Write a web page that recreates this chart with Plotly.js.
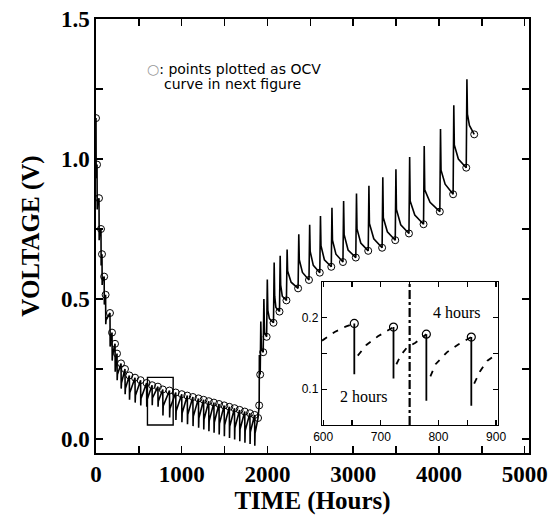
<!DOCTYPE html>
<html>
<head>
<meta charset="utf-8">
<script src="https://cdn.plot.ly/plotly-3.0.1.min.js"></script>
<style>html,body{margin:0;padding:0;background:#fff;}#chart{width:554px;height:518px;}</style>
</head>
<body>
<div id="chart"></div>
<script>
// ---------- discharge phase: OCV points (circles), pulse minima, post-pulse recovery ----------
const dchT   = [0, 12, 35, 58, 70, 95, 112, 163, 187, 222, 245, 292, 338, 389, 455, 520, 590, 654, 722, 779, 857, 930, 1000, 1065, 1130, 1195, 1255, 1315, 1375, 1435, 1495, 1555, 1615, 1675, 1735, 1795, 1850, 1890];
const dchV   = [1.146, 0.98, 0.86, 0.75, 0.66, 0.58, 0.515, 0.45, 0.38, 0.34, 0.305, 0.27, 0.25, 0.227, 0.219, 0.21, 0.2, 0.192, 0.187, 0.177, 0.173, 0.166, 0.160, 0.155, 0.150, 0.145, 0.140, 0.135, 0.130, 0.125, 0.120, 0.115, 0.110, 0.104, 0.098, 0.092, 0.086, 0.075];
const dchMin = [0.93, 0.82, 0.71, 0.62, 0.55, 0.48, 0.41, 0.33, 0.28, 0.24, 0.21, 0.18, 0.16, 0.14, 0.13, 0.12, 0.115, 0.121, 0.115, 0.084, 0.077, 0.068, 0.060, 0.053, 0.046, 0.040, 0.034, 0.028, 0.022, 0.016, 0.010, 0.004, -0.002, -0.008, -0.013, -0.018, -0.024];
const dchRec = [0.95, 0.84, 0.73, 0.64, 0.565, 0.495, 0.425, 0.35, 0.30, 0.26, 0.23, 0.20, 0.18, 0.165, 0.155, 0.145, 0.14, 0.147, 0.135, 0.118, 0.108, 0.10, 0.093, 0.087, 0.081, 0.075, 0.07, 0.065, 0.06, 0.055, 0.05, 0.045, 0.04, 0.035, 0.03, 0.025, 0.02];

// ---------- charge phase: OCV points (circles), pulse tops, decay values ----------
const chgT     = [1903, 1915, 1950, 1990, 2070, 2140, 2221, 2357, 2484, 2610, 2744, 2880, 3030, 3175, 3337, 3490, 3650, 3820, 4010, 4165, 4318, 4411];
const chgV     = [0.12, 0.23, 0.31, 0.365, 0.415, 0.455, 0.495, 0.538, 0.568, 0.594, 0.615, 0.632, 0.648, 0.672, 0.683, 0.71, 0.734, 0.767, 0.812, 0.874, 0.969, 1.088];
const chgTop   = [0.30, 0.42, 0.50, 0.57, 0.63, 0.654, 0.677, 0.731, 0.765, 0.796, 0.826, 0.85, 0.877, 0.904, 0.935, 0.963, 1.007, 1.046, 1.107, 1.192, 1.285];
const chgAfter = [0.25, 0.34, 0.40, 0.46, 0.51, 0.55, 0.60, 0.64, 0.67, 0.69, 0.71, 0.73, 0.75, 0.77, 0.79, 0.82, 0.85, 0.89, 0.96, 1.05, 1.16];
const chgMid   = [0.24, 0.32, 0.38, 0.43, 0.47, 0.51, 0.56, 0.595, 0.62, 0.64, 0.66, 0.675, 0.70, 0.715, 0.74, 0.765, 0.80, 0.845, 0.91, 1.0, 1.12];

// ---------- inset (600-900 h) ----------
const insPulseT = [654, 722, 779, 857];
const insOcv    = [0.192, 0.187, 0.177, 0.173];
const insMin    = [0.121, 0.115, 0.084, 0.077];
const insRecT   = [598, 620, 640, 654, null, 660, 675, 695, 712, 722, null, 727, 735, 745, 760, 779, null, 786, 795, 815, 835, 857, null, 862, 872, 885, 903];
const insRecV   = [0.168, 0.180, 0.188, 0.192, null, 0.147, 0.162, 0.174, 0.182, 0.187, null, 0.135, 0.148, 0.158, 0.165, 0.177, null, 0.118, 0.135, 0.152, 0.163, 0.173, null, 0.108, 0.125, 0.140, 0.150];

// tick labels
const xTickVals = [0, 500, 1000, 1500, 2000, 2500, 3000, 3500, 4000, 4500, 5000];
const xTickText = ['0', '', '1000', '', '2000', '', '3000', '', '4000', '', '5000'];
const yTickVals = [0, 0.25, 0.5, 0.75, 1.0, 1.25, 1.5];
const yTickText = ['0.0', '', '0.5', '', '1.0', '', '1.5'];
const x2TickVals = [600, 650, 700, 750, 800, 850, 900];
const x2TickText = ['600', '', '700', '', '800', '', '900'];
const y2TickVals = [0.1, 0.15, 0.2];
const y2TickText = ['0.1', '', '0.2'];

// ---------- build main curve ----------
const lx = [], ly = [];
for (let i = 0; i < dchT.length; i++) {
  lx.push(dchT[i]); ly.push(dchV[i]);
  if (i < dchMin.length) {
    lx.push(dchT[i] + 2, dchT[i] + 5);
    ly.push(dchMin[i], dchRec[i]);
  }
}
for (let i = 0; i < chgT.length; i++) {
  lx.push(chgT[i]); ly.push(chgV[i]);
  if (i < chgTop.length) {
    const dt = chgT[i + 1] - chgT[i];
    lx.push(chgT[i] + Math.min(8, dt * 0.2), chgT[i] + Math.min(14, dt * 0.35), chgT[i] + dt * 0.4);
    ly.push(chgTop[i], chgAfter[i], chgMid[i]);
  }
}

const pxs = [], pys = [];
for (let i = 0; i < insPulseT.length; i++) {
  pxs.push(insPulseT[i], insPulseT[i], null);
  pys.push(insOcv[i], insMin[i], null);
}

const serif = 'Liberation Serif, Times New Roman, serif';
const sans = 'Liberation Sans, Arial, sans-serif';

const traces = [
  { x: lx, y: ly, type: 'scatter', mode: 'lines', line: { color: '#000', width: 1.6 }, hoverinfo: 'skip', showlegend: false },
  { x: dchT.concat(chgT), y: dchV.concat(chgV), type: 'scatter', mode: 'markers',
    marker: { symbol: 'circle-open', size: 7, color: '#000', line: { width: 1, color: '#000' } }, showlegend: false },
  { x: insRecT, y: insRecV, xaxis: 'x2', yaxis: 'y2', type: 'scatter', mode: 'lines', connectgaps: false,
    line: { color: '#000', width: 1.8, dash: '6px,7px' }, showlegend: false },
  { x: pxs, y: pys, xaxis: 'x2', yaxis: 'y2', type: 'scatter', mode: 'lines', connectgaps: false,
    line: { color: '#000', width: 1.8 }, showlegend: false },
  { x: insPulseT, y: insOcv, xaxis: 'x2', yaxis: 'y2', type: 'scatter', mode: 'markers',
    marker: { symbol: 'circle-open', size: 8, color: '#000', line: { width: 1.2, color: '#000' } }, showlegend: false }
];

const layout = {
  width: 554, height: 518,
  margin: { l: 96, r: 25, t: 19, b: 65 },
  paper_bgcolor: '#fff', plot_bgcolor: '#fff',
  showlegend: false,
  xaxis: {
    range: [0, 5050], tickmode: 'array', tickvals: xTickVals, ticktext: xTickText,
    ticks: 'inside', ticklen: 7, tickwidth: 1.5, tickcolor: '#000',
    showline: true, linewidth: 1.6, linecolor: '#000', mirror: 'ticks',
    showgrid: false, zeroline: false,
    tickfont: { family: serif, size: 23, color: '#000', weight: 'bold' },
    title: { text: 'TIME (Hours)', font: { family: serif, size: 25, color: '#000', weight: 'bold' }, standoff: 4 }
  },
  yaxis: {
    range: [-0.05, 1.5], tickmode: 'array', tickvals: yTickVals, ticktext: yTickText,
    ticks: 'inside', ticklen: 7, tickwidth: 1.5, tickcolor: '#000',
    showline: true, linewidth: 1.6, linecolor: '#000', mirror: 'ticks',
    showgrid: false, zeroline: false,
    tickfont: { family: serif, size: 23, color: '#000', weight: 'bold' },
    title: { text: 'VOLTAGE (V)', font: { family: serif, size: 25, color: '#000', weight: 'bold' }, standoff: 14 }
  },
  xaxis2: {
    domain: [0.522, 0.928], anchor: 'y2', range: [598, 903],
    tickmode: 'array', tickvals: x2TickVals, ticktext: x2TickText,
    ticks: 'inside', ticklen: 5, tickwidth: 1.2, tickcolor: '#000',
    showline: true, linewidth: 1.3, linecolor: '#000', mirror: 'ticks',
    showgrid: false, zeroline: false,
    tickfont: { family: sans, size: 12, color: '#000' }
  },
  yaxis2: {
    domain: [0.0645, 0.394], anchor: 'x2', range: [0.05, 0.25],
    tickmode: 'array', tickvals: y2TickVals, ticktext: y2TickText,
    ticks: 'inside', ticklen: 5, tickwidth: 1.2, tickcolor: '#000',
    showline: true, linewidth: 1.3, linecolor: '#000', mirror: 'ticks',
    showgrid: false, zeroline: false,
    tickfont: { family: sans, size: 12, color: '#000' }
  },
  shapes: [
    { type: 'rect', xref: 'x', yref: 'y', x0: 600, x1: 900, y0: 0.05, y1: 0.22, line: { color: '#000', width: 1.4 } },
    { type: 'line', xref: 'x2', yref: 'y2', x0: 750, x1: 750, y0: 0.05, y1: 0.25, line: { color: '#000', width: 2.2, dash: 'dashdot' } }
  ],
  annotations: [
    { xref: 'paper', yref: 'paper', x: 0.113, y: 0.885, xanchor: 'left', yanchor: 'middle', showarrow: false,
      text: '<span style="color:#999">○</span>: points plotted as OCV', font: { family: 'DejaVu Sans, sans-serif', size: 14, color: '#000' } },
    { xref: 'paper', yref: 'paper', x: 0.152, y: 0.850, xanchor: 'left', yanchor: 'middle', showarrow: false,
      text: 'curve in next figure', font: { family: 'DejaVu Sans, sans-serif', size: 14, color: '#000' } },
    { xref: 'x2', yref: 'y2', x: 670, y: 0.090, showarrow: false, text: '2 hours',
      font: { family: serif, size: 16, color: '#000' } },
    { xref: 'x2', yref: 'y2', x: 832, y: 0.207, showarrow: false, text: '4 hours',
      font: { family: serif, size: 16, color: '#000' }, bgcolor: '#fff' }
  ]
};

Plotly.newPlot('chart', traces, layout, { displayModeBar: false, staticPlot: true });
</script>
</body>
</html>
